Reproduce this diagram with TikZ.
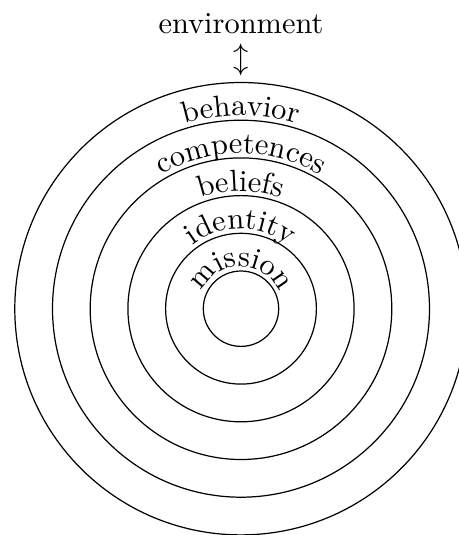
\documentclass[tikz,border=0pt]{standalone}
\usetikzlibrary{decorations.text}
\begin{document}
\begin{tikzpicture}[x=0.3289pt,y=0.3289pt,
  ring/.style={draw, line width=0.4pt},
  lab/.style={decorate, decoration={text along path, text align=center, text={#1}}}]
\useasboundingbox (0,0) rectangle (459,-535);
\coordinate (C) at (241,-308.7);
\foreach \k in {1,...,6} \draw[ring] (C) circle[radius=37.7*\k];
\path[lab={behavior}] (C) ++(180:193) arc[start angle=180,end angle=0,radius=193];
\path[lab={competences}] (C) ++(180:155.3) arc[start angle=180,end angle=0,radius=155.3];
\path[lab={beliefs}] (C) ++(180:117.6) arc[start angle=180,end angle=0,radius=117.6];
\path[lab={identity}] (C) ++(180:79.9) arc[start angle=180,end angle=0,radius=79.9];
\path[lab={mission}] (C) ++(180:42.2) arc[start angle=180,end angle=0,radius=42.2];
\node[anchor=base, inner sep=0pt] (env) at (241,-33.3) {environment};
\node[inner sep=0pt] (arr) at (241,-59.5) {$\updownarrow$};
\end{tikzpicture}
\end{document}
